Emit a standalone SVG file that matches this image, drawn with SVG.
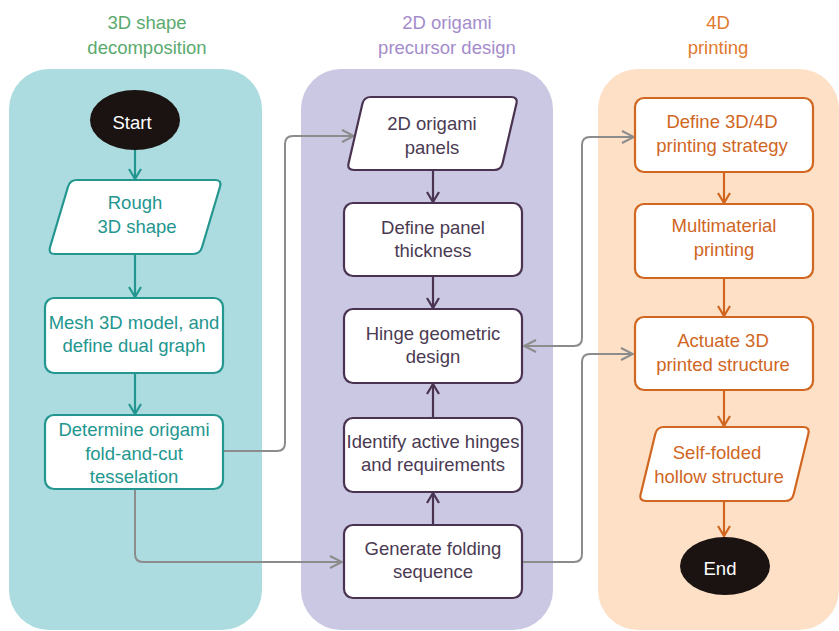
<svg xmlns="http://www.w3.org/2000/svg" width="839" height="631" viewBox="0 0 839 631">
<style>
text{font-family:"Liberation Sans",Arial,sans-serif;font-size:18.5px;text-anchor:middle;dominant-baseline:central}
.hd1{fill:#5aaa6e}.hd2{fill:#a48ccb}.hd3{fill:#e07a2f}
.t{fill:#23968f}.p{fill:#4a3a52}.o{fill:#d0661f}
.nt{fill:#fff;stroke:#23968f;stroke-width:2.2}
.np{fill:#fff;stroke:#4a3350;stroke-width:2.2}
.no{fill:#fff;stroke:#d0661f;stroke-width:2.2}
.term{fill:#1a1311}
.wt{fill:#fff}
.ct{stroke:#23968f;stroke-width:2.2;fill:none}
.cp{stroke:#4a3350;stroke-width:2.2;fill:none}
.co{stroke:#d0661f;stroke-width:2.2;fill:none}
.cg{stroke:#8c8c8c;stroke-width:2;fill:none}
</style>
<defs>
<marker id="aT" viewBox="-12 -8 14 16" refX="0" refY="0" markerWidth="14" markerHeight="16" markerUnits="userSpaceOnUse" orient="auto"><path d="M-10,-6 L0,0 L-10,6" fill="none" stroke="#23968f" stroke-width="2.2"/></marker>
<marker id="aP" viewBox="-12 -8 14 16" refX="0" refY="0" markerWidth="14" markerHeight="16" markerUnits="userSpaceOnUse" orient="auto"><path d="M-10,-6 L0,0 L-10,6" fill="none" stroke="#4a3350" stroke-width="2.2"/></marker>
<marker id="aO" viewBox="-12 -8 14 16" refX="0" refY="0" markerWidth="14" markerHeight="16" markerUnits="userSpaceOnUse" orient="auto"><path d="M-10,-6 L0,0 L-10,6" fill="none" stroke="#d0661f" stroke-width="2.2"/></marker>
<marker id="aG" viewBox="-14 -8 16 16" refX="0" refY="0" markerWidth="16" markerHeight="16" markerUnits="userSpaceOnUse" orient="auto-start-reverse"><path d="M-12,-6 L0,0 L-12,6" fill="none" stroke="#8c8c8c" stroke-width="2"/></marker>
</defs>

<g id="lanes">
<rect x="9" y="69" width="253" height="561" rx="40" fill="#acdcdf"/>
<rect x="301" y="69" width="252" height="561" rx="40" fill="#cac8e2"/>
<rect x="598" y="69" width="241" height="561" rx="40" fill="#fde0c6"/>
<text class="hd1" x="147" y="22">3D shape</text>
<text class="hd1" x="147" y="47">decomposition</text>
<text class="hd2" x="447" y="22">2D origami</text>
<text class="hd2" x="447" y="47">precursor design</text>
<text class="hd3" x="718" y="22">4D</text>
<text class="hd3" x="718" y="47">printing</text>
</g>

<g id="connectors">
<path class="ct" d="M135,150 V179" marker-end="url(#aT)"/>
<path class="ct" d="M135,254 V297" marker-end="url(#aT)"/>
<path class="ct" d="M135,373 V414" marker-end="url(#aT)"/>
<path class="cp" d="M433,170 V202" marker-end="url(#aP)"/>
<path class="cp" d="M433,276 V308" marker-end="url(#aP)"/>
<path class="cp" d="M433,418 V384" marker-end="url(#aP)"/>
<path class="cp" d="M433,525 V493" marker-end="url(#aP)"/>
<path class="co" d="M724,172 V203" marker-end="url(#aO)"/>
<path class="co" d="M724,278 V316" marker-end="url(#aO)"/>
<path class="co" d="M724,390 V426" marker-end="url(#aO)"/>
<path class="co" d="M724,501 V536" marker-end="url(#aO)"/>
<path class="cg" d="M223,451 H277 Q285,451 285,443 V144 Q285,136 293,136 H354" marker-end="url(#aG)"/>
<path class="cg" d="M135,489 V554 Q135,562 143,562 H342" marker-end="url(#aG)"/>
<path class="cg" d="M524,346 H574 Q582,346 582,338 V145 Q582,137 590,137 H634" marker-start="url(#aG)" marker-end="url(#aG)"/>
<path class="cg" d="M522,562 H574 Q582,562 582,554 V362 Q582,354 590,354 H633" marker-end="url(#aG)"/>
</g>

<g id="start">
<ellipse class="term" cx="135" cy="120" rx="45" ry="30"/>
<text class="wt" x="132" y="122">Start</text>
</g>
<g id="rough">
<path class="nt" d="M77,180 H215 Q222,180 220,186.7 L202,247.3 Q200,254 193,254 H55 Q48,254 50,247.3 L68,186.7 Q70,180 77,180 Z"/>
<text class="t" x="135" y="202">Rough</text>
<text class="t" x="137" y="226">3D shape</text>
</g>
<g id="mesh">
<rect class="nt" x="45" y="298" width="178" height="75" rx="9"/>
<text class="t" x="134" y="322">Mesh 3D model, and</text>
<text class="t" x="134" y="345">define dual graph</text>
</g>
<g id="determine">
<rect class="nt" x="45" y="415" width="178" height="74" rx="9"/>
<text class="t" x="134" y="429">Determine origami</text>
<text class="t" x="134" y="453">fold-and-cut</text>
<text class="t" x="134" y="476">tesselation</text>
</g>

<g id="panels">
<path class="np" d="M371,97 H511 Q518,97 516.4,103.8 L502.6,163.2 Q501,170 494,170 H354 Q347,170 348.6,163.2 L362.4,103.8 Q364,97 371,97 Z"/>
<text class="p" x="432" y="123">2D origami</text>
<text class="p" x="432" y="147">panels</text>
</g>
<g id="thickness">
<rect class="np" x="344" y="203" width="178" height="73" rx="9"/>
<text class="p" x="433" y="227">Define panel</text>
<text class="p" x="433" y="250">thickness</text>
</g>
<g id="hinge">
<rect class="np" x="344" y="309" width="178" height="74" rx="9"/>
<text class="p" x="433" y="333">Hinge geometric</text>
<text class="p" x="433" y="356">design</text>
</g>
<g id="identify">
<rect class="np" x="344" y="418" width="178" height="74" rx="9"/>
<text class="p" x="433" y="441">Identify active hinges</text>
<text class="p" x="433" y="464">and requirements</text>
</g>
<g id="generate">
<rect class="np" x="344" y="525" width="178" height="73" rx="9"/>
<text class="p" x="433" y="548">Generate folding</text>
<text class="p" x="433" y="571">sequence</text>
</g>

<g id="strategy">
<rect class="no" x="635" y="98" width="178" height="74" rx="9"/>
<text class="o" x="722" y="121">Define 3D/4D</text>
<text class="o" x="722" y="145">printing strategy</text>
</g>
<g id="multimaterial">
<rect class="no" x="635" y="204" width="178" height="74" rx="9"/>
<text class="o" x="724" y="225">Multimaterial</text>
<text class="o" x="724" y="249">printing</text>
</g>
<g id="actuate">
<rect class="no" x="635" y="317" width="178" height="73" rx="9"/>
<text class="o" x="723" y="340">Actuate 3D</text>
<text class="o" x="723" y="364">printed structure</text>
</g>
<g id="selffolded">
<path class="no" d="M664,427 H803 Q810,427 808.35,433.8 L793.65,494.2 Q792,501 785,501 H646 Q639,501 640.65,494.2 L655.35,433.8 Q657,427 664,427 Z"/>
<text class="o" x="717" y="452">Self-folded</text>
<text class="o" x="719" y="476">hollow structure</text>
</g>
<g id="end">
<ellipse class="term" cx="725" cy="566" rx="45" ry="29"/>
<text class="wt" x="720" y="568">End</text>
</g>
</svg>
